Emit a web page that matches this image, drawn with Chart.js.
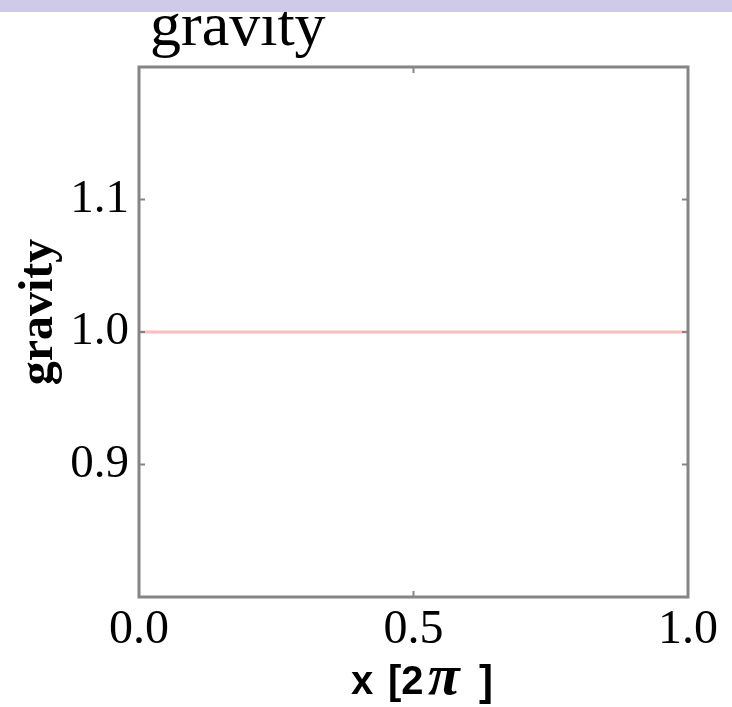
<!DOCTYPE html>
<html>
<head>
<meta charset="utf-8">
<script src="https://cdn.jsdelivr.net/npm/chart.js@4.4.0/dist/chart.umd.min.js"></script>
<style>
	html, body { margin: 0; padding: 0; background: #fff; }
	#wrap { position: relative; width: 732px; height: 707px; overflow: hidden; }
	#band { position: absolute; left: 0; top: 0; width: 732px; height: 12px; background: #cfcae8; z-index: 2; }
	canvas { position: absolute; left: 0; top: 0; }
</style>
</head>
<body>
<div id="wrap">
	<div id="band"></div>
	<canvas id="myChart" width="732" height="707"></canvas>
</div>
<script>
var xValues = [0.0, 1.0];
var gravity = [1.0, 1.0];
var xTicks = [0.0, 0.5, 1.0];
var yTicks = [0.9, 1.0, 1.1];
var xRange = [0.0, 1.0];
var yRange = [0.8, 1.2];

var frameColor = "#858585";

// frame, inward ticks and the titles
var decorations = {
	id: "decorations",
	afterDatasetsDraw: function(chart) {
		var ctx = chart.ctx;
		var a = chart.chartArea;
		var xs = chart.scales.x, ys = chart.scales.y;
		ctx.save();
		ctx.strokeStyle = frameColor;
		ctx.lineWidth = 2;
		ctx.beginPath();
		yTicks.forEach(function(v) {
			var py = ys.getPixelForValue(v);
			ctx.moveTo(a.left, py); ctx.lineTo(a.left + 6, py);
			ctx.moveTo(a.right, py); ctx.lineTo(a.right - 6, py);
		});
		xTicks.forEach(function(v) {
			var px = xs.getPixelForValue(v);
			ctx.moveTo(px, a.bottom); ctx.lineTo(px, a.bottom - 6);
			ctx.moveTo(px, a.top); ctx.lineTo(px, a.top + 6);
		});
		ctx.stroke();
		ctx.lineWidth = 3;
		ctx.strokeRect(a.left, a.top, a.right - a.left, a.bottom - a.top);
		ctx.restore();
	},
	afterDraw: function(chart) {
		var ctx = chart.ctx;
		ctx.save();
		ctx.fillStyle = "#000";

		// plot title
		ctx.font = "62px 'Liberation Serif'";
		ctx.textAlign = "left";
		ctx.textBaseline = "alphabetic";
		ctx.fillText("gravity", 150, 45);

		// y axis title
		ctx.save();
		ctx.translate(52, 312);
		ctx.rotate(-Math.PI / 2);
		ctx.font = "bold 48px 'Liberation Serif'";
		ctx.textAlign = "center";
		ctx.fillText("gravity", 0, 0);
		ctx.restore();

		// x axis title, pi in italic serif
		ctx.font = "bold 40px 'Liberation Sans'";
		ctx.fillText("x", 351, 694);
		ctx.fillText("[2", 388, 694);
		ctx.font = "bold 42px 'Liberation Sans'";
		ctx.fillText("]", 479, 695);
		ctx.font = "italic bold 58px 'Liberation Serif'";
		ctx.fillText("\u03c0", 428, 694);
		ctx.restore();
	}
};

var ctx = document.getElementById("myChart");
var myChart = new Chart(ctx, {
	type: "line",
	data: {
		datasets: [{
			data: xValues.map(function(x, i) { return {x: x, y: gravity[i]}; }),
			borderColor: "#ffbcbc",
			borderWidth: 3,
			pointRadius: 0,
			fill: false
		}]
	},
	options: {
		responsive: false,
		animation: false,
		layout: { padding: { top: 67, right: 44, left: 0, bottom: 0 } },
		plugins: { legend: { display: false }, title: { display: false }, tooltip: { enabled: false } },
		scales: {
			x: {
				type: "linear",
				min: xRange[0],
				max: xRange[1],
				grid: { display: false, drawTicks: false },
				border: { display: false },
				afterBuildTicks: function(s) { s.ticks = xTicks.map(function(v) { return {value: v}; }); },
				afterFit: function(s) { s.height = 110; },
				ticks: {
					padding: 5,
					color: "#000",
					maxRotation: 0,
					font: { family: "'Liberation Serif'", size: 48 },
					callback: function(v) { return Number(v).toFixed(1); }
				}
			},
			y: {
				type: "linear",
				min: yRange[0],
				max: yRange[1],
				grid: { display: false, drawTicks: false },
				border: { display: false },
				afterBuildTicks: function(s) { s.ticks = yTicks.map(function(v) { return {value: v}; }); },
				afterFit: function(s) { s.width = 139; },
				ticks: {
					padding: 10,
					color: "#000",
					font: { family: "'Liberation Serif'", size: 47 },
					callback: function(v) { return Number(v).toFixed(1); }
				}
			}
		}
	},
	plugins: [decorations]
});
</script>
</body>
</html>
